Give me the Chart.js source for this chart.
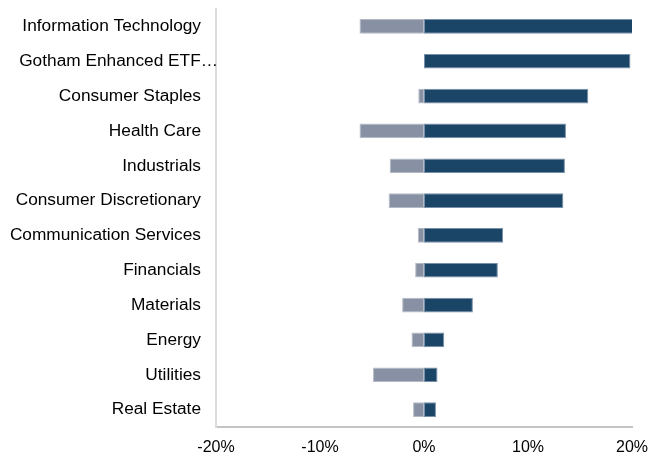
<!DOCTYPE html>
<html>
<head>
<meta charset="utf-8">
<script src="https://cdn.jsdelivr.net/npm/chart.js@4.4.1/dist/chart.umd.min.js"></script>
<style>
html,body{margin:0;padding:0;background:#fff;}
#wrap{width:651px;height:455px;position:relative;}
</style>
</head>
<body>
<div id="wrap"><canvas id="c"></canvas></div>
<script>
const categories = [
  "Information Technology",
  "Gotham Enhanced ETF\u2026",
  "Consumer Staples",
  "Health Care",
  "Industrials",
  "Consumer Discretionary",
  "Communication Services",
  "Financials",
  "Materials",
  "Energy",
  "Utilities",
  "Real Estate"
];
const negativeValues = [-6.2, 0, -0.55, -6.2, -3.3, -3.4, -0.6, -0.85, -2.1, -1.2, -4.9, -1.05];
const positiveValues = [20.1, 19.85, 15.8, 13.65, 13.55, 13.4, 7.6, 7.1, 4.7, 1.95, 1.3, 1.15];
const xTicks = [-20, -10, 0, 10, 20];

const FONT = 'Liberation Sans, Arial, sans-serif';
const Y_FONT_SIZE = 17.3;
const SHIFTED_LABEL = 1; // label that overhangs toward the axis in the reference

const shiftedLabelPlugin = {
  id: 'shiftedLabel',
  afterDraw(chart) {
    const y = chart.scales.y;
    const ctx = chart.ctx;
    ctx.save();
    ctx.font = Y_FONT_SIZE + 'px ' + FONT;
    ctx.fillStyle = '#000';
    ctx.textAlign = 'right';
    ctx.textBaseline = 'middle';
    ctx.fillText(categories[SHIFTED_LABEL], y.right + 2, y.getPixelForTick(SHIFTED_LABEL));
    ctx.restore();
  }
};

new Chart(document.getElementById('c'), {
  type: 'bar',
  data: {
    labels: categories,
    datasets: [
      {
        label: 'Negative',
        data: negativeValues,
        backgroundColor: '#8791a3',
        borderColor: '#b3bac6',
        borderWidth: 1,
        borderSkipped: false,
        barPercentage: 0.42,
        categoryPercentage: 1.0
      },
      {
        label: 'Positive',
        data: positiveValues,
        backgroundColor: '#1b4567',
        borderColor: '#7890a7',
        borderWidth: 1,
        borderSkipped: false,
        barPercentage: 0.42,
        categoryPercentage: 1.0
      }
    ]
  },
  plugins: [shiftedLabelPlugin],
  options: {
    indexAxis: 'y',
    responsive: true,
    maintainAspectRatio: false,
    animation: false,
    layout: { padding: { top: 9, right: 19, left: 0, bottom: 0 } },
    plugins: {
      legend: { display: false },
      tooltip: { enabled: false }
    },
    scales: {
      x: {
        stacked: true,
        min: -20,
        max: 20,
        afterBuildTicks: (axis) => { axis.ticks = xTicks.map(v => ({ value: v })); },
        afterFit: (s) => { s.height = 28; s.paddingLeft = 0; s.paddingRight = 0; },
        ticks: {
          callback: (v) => v + '%',
          color: '#000',
          font: { family: FONT, size: 16 },
          padding: 11,
          maxRotation: 0
        },
        grid: { display: false, drawTicks: false },
        border: { display: true, color: '#c4c4c4', width: 2 }
      },
      y: {
        stacked: true,
        afterFit: (s) => { s.width = 216; s.paddingTop = 0; s.paddingBottom = 0; },
        ticks: {
          color: (c) => c.index === SHIFTED_LABEL ? 'rgba(0,0,0,0)' : '#000',
          font: { family: FONT, size: Y_FONT_SIZE },
          padding: 15,
          autoSkip: false
        },
        grid: { display: false, drawTicks: false },
        border: { display: true, color: '#dcdcdc', width: 2 }
      }
    }
  }
});
</script>
</body>
</html>
